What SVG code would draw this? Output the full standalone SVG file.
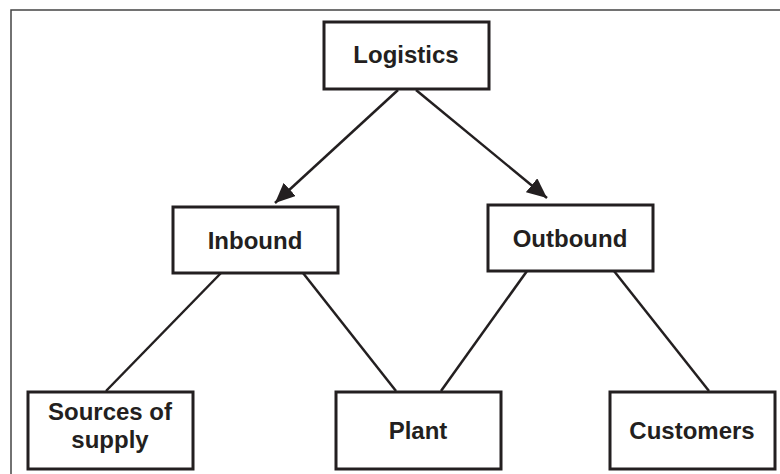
<svg xmlns="http://www.w3.org/2000/svg" width="780" height="474" viewBox="0 0 780 474">
<defs>
<style>
.box{fill:#fff;stroke:#231f20;stroke-width:3}
.ln{stroke:#231f20;stroke-width:2.5;fill:none}
.t{font-family:"Liberation Sans",Arial,sans-serif;font-weight:bold;font-size:24px;fill:#231f20;text-anchor:middle}
</style>
<marker id="ah" markerUnits="userSpaceOnUse" markerWidth="22" markerHeight="18" refX="20" refY="9" orient="auto">
<path d="M0,0 L20,9 L0,18 Z" fill="#231f20"/>
</marker>
</defs>
<rect width="780" height="474" fill="#fff"/>
<rect x="11" y="10" width="780" height="480" fill="none" stroke="#444" stroke-width="1.5"/>
<g id="connectors">
<line class="ln" x1="398" y1="90" x2="275" y2="203" marker-end="url(#ah)"/>
<line class="ln" x1="416" y1="90" x2="547" y2="198" marker-end="url(#ah)"/>
<line class="ln" x1="221" y1="273" x2="106" y2="391"/>
<line class="ln" x1="303" y1="273" x2="396" y2="391"/>
<line class="ln" x1="527" y1="271" x2="441" y2="391"/>
<line class="ln" x1="614" y1="271" x2="709" y2="391"/>
</g>
<g id="logistics">
<rect class="box" x="324" y="22" width="165" height="67"/>
<text class="t" x="406" y="63">Logistics</text>
</g>
<g id="inbound">
<rect class="box" x="173" y="207" width="165" height="66"/>
<text class="t" x="255" y="249">Inbound</text>
</g>
<g id="outbound">
<rect class="box" x="488" y="205" width="165" height="66"/>
<text class="t" x="570" y="247">Outbound</text>
</g>
<g id="sources">
<rect class="box" x="28" y="392" width="165" height="77"/>
<text class="t" x="110" y="420">Sources of</text>
<text class="t" x="110" y="448">supply</text>
</g>
<g id="plant">
<rect class="box" x="336" y="392" width="165" height="77"/>
<text class="t" x="418" y="439">Plant</text>
</g>
<g id="customers">
<rect class="box" x="610" y="392" width="165" height="77"/>
<text class="t" x="692" y="439">Customers</text>
</g>
</svg>
